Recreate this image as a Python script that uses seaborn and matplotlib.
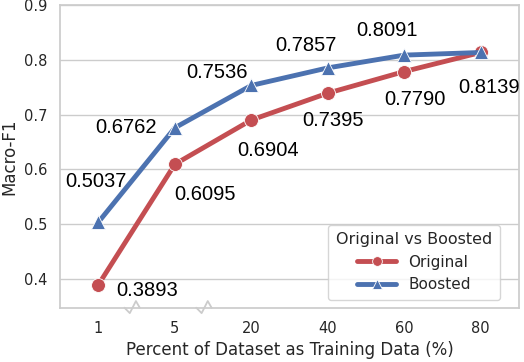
import numpy as np
import pandas as pd
import matplotlib
matplotlib.use("Agg")
import matplotlib.pyplot as plt
import matplotlib.transforms as mtransforms
import seaborn as sns

# data
percents = ["1", "5", "20", "40", "60", "80"]
original = [0.3893, 0.6095, 0.6904, 0.7395, 0.7790, 0.8139]
boosted = [0.5037, 0.6762, 0.7536, 0.7857, 0.8091, 0.8139]

df = pd.DataFrame({
    "Percent": percents * 2,
    "Macro-F1": original + boosted,
    "Original vs Boosted": ["Original"] * 6 + ["Boosted"] * 6,
})

sns.set_theme(style="whitegrid")
red, blue = "#C44E52", "#4C72B0"

fig, ax = plt.subplots(figsize=(5.24, 3.62), dpi=100)
sns.lineplot(data=df, x="Percent", y="Macro-F1", hue="Original vs Boosted",
             style="Original vs Boosted", markers=["o", "^"], dashes=False,
             palette=[red, blue], linewidth=3.5, markersize=10,
             markeredgecolor="white", markeredgewidth=0.6, sort=False, ax=ax)

ax.set_xlim(-0.5, 5.5)
ax.set_ylim(0.347, 0.9)
ax.set_yticks([0.4, 0.5, 0.6, 0.7, 0.8, 0.9])
ax.grid(axis="x", visible=False)
ax.set_xlabel("Percent of Dataset as Training Data (%)", fontsize=12)
ax.set_ylabel("Macro-F1", fontsize=12)
ax.tick_params(labelsize=10.5)

# label offsets in points (style, not data)
off_orig = [(35, -4), (22, -22), (12, -22), (4, -20), (8, -20), (6, -25)]
off_boost = [(-2, 29), (-35, 0), (-25, 9), (-16, 16), (-12, 18), (0, 0)]
fnt = dict(fontsize=14.5, family="Liberation Sans", ha="center", va="center",
           color="black")
for i, v in enumerate(original):
    ax.annotate(f"{v:.4f}", (i, v), xytext=off_orig[i], textcoords="offset points", **fnt)
for i, v in enumerate(boosted[:-1]):
    ax.annotate(f"{v:.4f}", (i, v), xytext=off_boost[i], textcoords="offset points", **fnt)

# axis break marks on the x axis
trans = mtransforms.blended_transform_factory(ax.transData, ax.transAxes)
for xb in [0.44, 1.38]:
    ax.plot([xb - 0.1, xb - 0.03, xb + 0.05, xb + 0.1], [0, -0.018, 0.022, 0],
            color="#cccccc", lw=1.3, transform=trans, clip_on=False, zorder=6)

leg = ax.legend(title="Original vs Boosted", loc="lower right", fontsize=11,
                title_fontsize=11.5, bbox_to_anchor=(0.975, 0.0), frameon=True,
                markerscale=0.7, handlelength=2.6, borderpad=0.5)
for h in leg.get_lines():
    h.set_linewidth(3.5)

plt.subplots_adjust(left=0.115, right=0.99, top=0.985, bottom=0.15)
plt.savefig("out.png", dpi=100)
